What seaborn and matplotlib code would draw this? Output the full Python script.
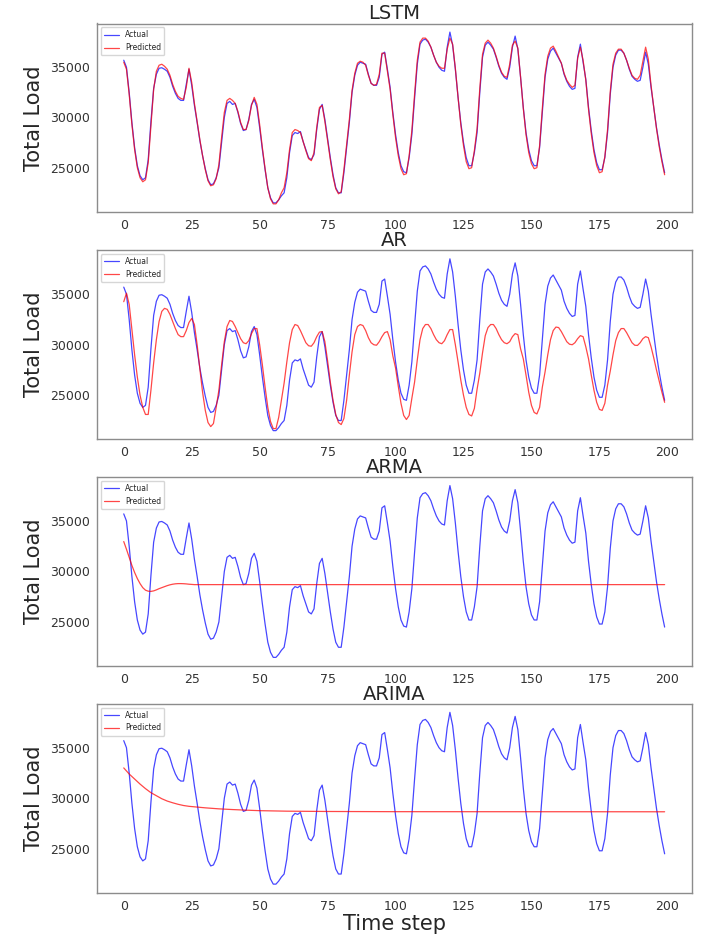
import numpy as np
import pandas as pd
import matplotlib
matplotlib.use("Agg")
import matplotlib.pyplot as plt
import seaborn as sns

# --- Data ---
steps = list(range(200))

actual = [
    35700, 35000, 32500, 29500, 27000, 25200, 24200, 23800, 24000, 25800,
    29600, 32900, 34300, 34900, 34950, 34800, 34600, 34000, 33100, 32400,
    31900, 31700, 31700, 33300, 34800, 33200, 31200, 29500, 27700, 26200,
    24900, 23800, 23300, 23400, 24000, 25000, 27500, 30000, 31400, 31600,
    31300, 31400, 30500, 29400, 28700, 28800, 29800, 31300, 31800, 31000,
    29000, 26800, 24800, 23000, 22000, 21500, 21500, 21800, 22200, 22500,
    24000, 26500, 28200, 28500, 28400, 28600, 27600, 26800, 26000, 25800,
    26300, 28800, 30800, 31300, 29800, 27900, 26000, 24300, 23000, 22500,
    22500, 24500, 27000, 29500, 32500, 34200, 35200, 35500, 35400, 35300,
    34300, 33400, 33200, 33200, 34000, 36300, 36500, 34800, 33000, 30500,
    28300, 26500, 25200, 24600, 24500, 26000, 28300, 31900, 35300, 37300,
    37700, 37800, 37500, 37000, 36200, 35500, 35000, 34700, 34600, 37000,
    38500, 37200, 34800, 32000, 29500, 27500, 26000, 25200, 25200, 26500,
    28500, 32500, 36000, 37200, 37500, 37200, 36800, 36000, 35100, 34400,
    34000, 33800, 35000, 37000, 38100, 36800, 34000, 31000, 28500, 26800,
    25700, 25200, 25200, 27000, 30500, 34000, 35800, 36600, 36900, 36400,
    35900, 35400, 34300, 33600, 33100, 32800, 32900, 36000, 37300, 35500,
    33800, 31000, 28700, 26800, 25500, 24800, 24800, 26000, 28500, 32300,
    35000, 36200, 36700, 36700, 36400, 35700, 34800, 34100, 33800, 33600,
    33700, 35000, 36500, 35300, 33000, 31000, 29000, 27300, 25800, 24500,
]

lstm_pred = [
    35500, 34800, 32300, 29300, 26800, 25000, 24000, 23600, 23800, 25500,
    29200, 32800, 34600, 35200, 35300, 35100, 34800, 34200, 33300, 32600,
    32100, 31900, 31800, 33000, 34900, 33500, 31400, 29600, 27800, 26200,
    24800, 23700, 23200, 23300, 23900, 25300, 28000, 30500, 31700, 31900,
    31700, 31400, 30600, 29500, 28800, 28800, 29700, 31200, 32000, 31300,
    29300, 27000, 24900, 23000, 21900, 21400, 21400, 21800, 22500, 23000,
    24500, 26800, 28500, 28800, 28700, 28500, 27600, 26700, 25900, 25700,
    26500, 29000, 31000, 31200, 29600, 27700, 25800, 24100, 22900, 22400,
    22600, 24800, 27300, 29800, 32700, 34400, 35400, 35600, 35500, 35200,
    34200, 33400, 33200, 33300, 34300, 36400, 36400, 34600, 32800, 30300,
    28000, 26200, 24900, 24300, 24400, 26200, 28700, 32300, 35700, 37500,
    37900, 37900, 37600, 37000, 36200, 35500, 35100, 34900, 34900, 36800,
    37900, 37300, 34900, 32000, 29300, 27200, 25600, 24900, 25000, 26700,
    28900, 32900, 36300, 37400, 37700, 37400, 36900, 36100, 35200, 34500,
    34100, 34000, 35300, 37200, 37600, 36900, 34000, 30900, 28300, 26500,
    25400, 24900, 25000, 27200, 30900, 34300, 36100, 36900, 37100, 36600,
    36000, 35400, 34400, 33700, 33300, 33000, 33200, 35900, 37000, 35700,
    33700, 30800, 28400, 26500, 25200, 24500, 24600, 26100, 28800, 32600,
    35300, 36400, 36800, 36800, 36400, 35700, 34900, 34200, 33900, 33800,
    34200, 35600, 37000, 35800, 33200, 31000, 28900, 27100, 25600, 24300,
]

ar_pred = [
    34260, 35100, 34000, 31500, 29000, 26800, 25000, 23800, 23100, 23100,
    25500, 28200, 30500, 32300, 33300, 33600, 33500, 33000, 32300, 31600,
    31000, 30800, 30800, 31400, 32200, 32600, 32000, 30000, 27600, 25300,
    23500, 22300, 21900, 22200, 23800, 25500, 28000, 30300, 31800, 32400,
    32300, 31800, 31200, 30600, 30200, 30100, 30400, 31100, 31600, 31600,
    30000, 28000, 25800, 23800, 22400, 21700, 21700, 22800, 24500, 26200,
    28300, 30200, 31500, 32000, 31900, 31400, 30800, 30200, 29900, 29850,
    30200, 30800, 31250, 31300, 30300, 28400, 26300, 24500, 23100, 22300,
    22100, 22700, 24500, 27000, 29300, 31000, 31800, 32000, 31900, 31400,
    30700, 30200, 30000, 29950, 30300, 30800, 31200, 31300, 30500, 28900,
    27700, 25900, 24200, 23000, 22600, 23000, 24700, 26300, 28500, 30500,
    31600, 32000, 32000, 31600, 31000, 30500, 30200, 30100, 30400, 31000,
    31500, 31500, 30000, 28300, 26500, 25000, 23800, 23100, 22950, 23700,
    25600, 27200, 29200, 30900, 31700, 32000, 32000, 31600, 31000, 30500,
    30200, 30100, 30300, 30800, 31100, 31000, 29600, 28600, 27000, 25300,
    24000, 23300, 23150, 23800, 25800, 27300, 29000, 30500, 31400, 31750,
    31700, 31300, 30800, 30300, 30050, 30000, 30200, 30600, 30900, 30800,
    29800, 28600, 27000, 25500, 24300, 23600, 23500, 24200, 26000, 27400,
    29000, 30400, 31200, 31600, 31600, 31200, 30700, 30200, 29950, 29930,
    30200, 30600, 30800, 30700, 29800, 28700, 27500, 26400, 25300, 24300,
]

arma_steps = [0, 1, 2, 3, 4, 5, 6, 7, 8, 9, 10, 11, 12, 13, 14, 15, 16,
              17, 18, 19, 20, 21, 22, 23, 24, 25, 26, 199]
arma_pred = [32960, 32200, 31400, 30600, 29900, 29300, 28800, 28400, 28150,
             28050, 28030, 28080, 28180, 28300, 28400, 28500, 28600, 28680,
             28740, 28780, 28800, 28800, 28790, 28770, 28740, 28720, 28700,
             28700]

arima_steps = [0, 2, 4, 6, 8, 10, 12, 14, 16, 18, 20, 22, 24, 26, 30, 35,
               40, 45, 50, 60, 75, 100, 199]
arima_pred = [33000, 32400, 31900, 31400, 30950, 30550, 30250, 29950, 29720,
              29550, 29400, 29280, 29200, 29150, 29050, 28950, 28880, 28820,
              28770, 28720, 28690, 28670, 28660]

titles = ['LSTM', 'AR', 'ARMA', 'ARIMA']
pred_x = [steps, steps, arma_steps, arima_steps]
pred_y = [lstm_pred, ar_pred, arma_pred, arima_pred]

# --- Plot ---
sns.set_style('white')
plt.rcParams['font.family'] = ['DejaVu Sans']

fig, axes = plt.subplots(4, 1, figsize=(7.19, 9.40), dpi=100)
fig.subplots_adjust(left=0.1345, right=0.962, top=0.975, bottom=0.0503,
                    hspace=0.2)

for ax, title, px, py in zip(axes, titles, pred_x, pred_y):
    sns.lineplot(x=steps, y=actual, color='blue', alpha=0.72, linewidth=0.9,
                 label='Actual', ax=ax)
    sns.lineplot(x=px, y=py, color='red', alpha=0.72, linewidth=0.9,
                 label='Predicted', ax=ax)
    ax.set_title(title, fontsize=14, pad=3, color='#262626')
    ax.set_ylabel('Total Load', fontsize=15, color='#262626')
    ax.set_xticks([0, 25, 50, 75, 100, 125, 150, 175, 200])
    ax.set_yticks([25000, 30000, 35000])
    ax.tick_params(labelsize=9, colors='#333333', length=0, pad=5)
    for sp in ax.spines.values():
        sp.set_color('#8c8c8c')
        sp.set_linewidth(1)
    ax.legend(loc='upper left', fontsize=5.5, frameon=True)

axes[-1].set_xlabel('Time step', fontsize=15, color='#262626', labelpad=1)

fig.savefig('out.png', dpi=100)
